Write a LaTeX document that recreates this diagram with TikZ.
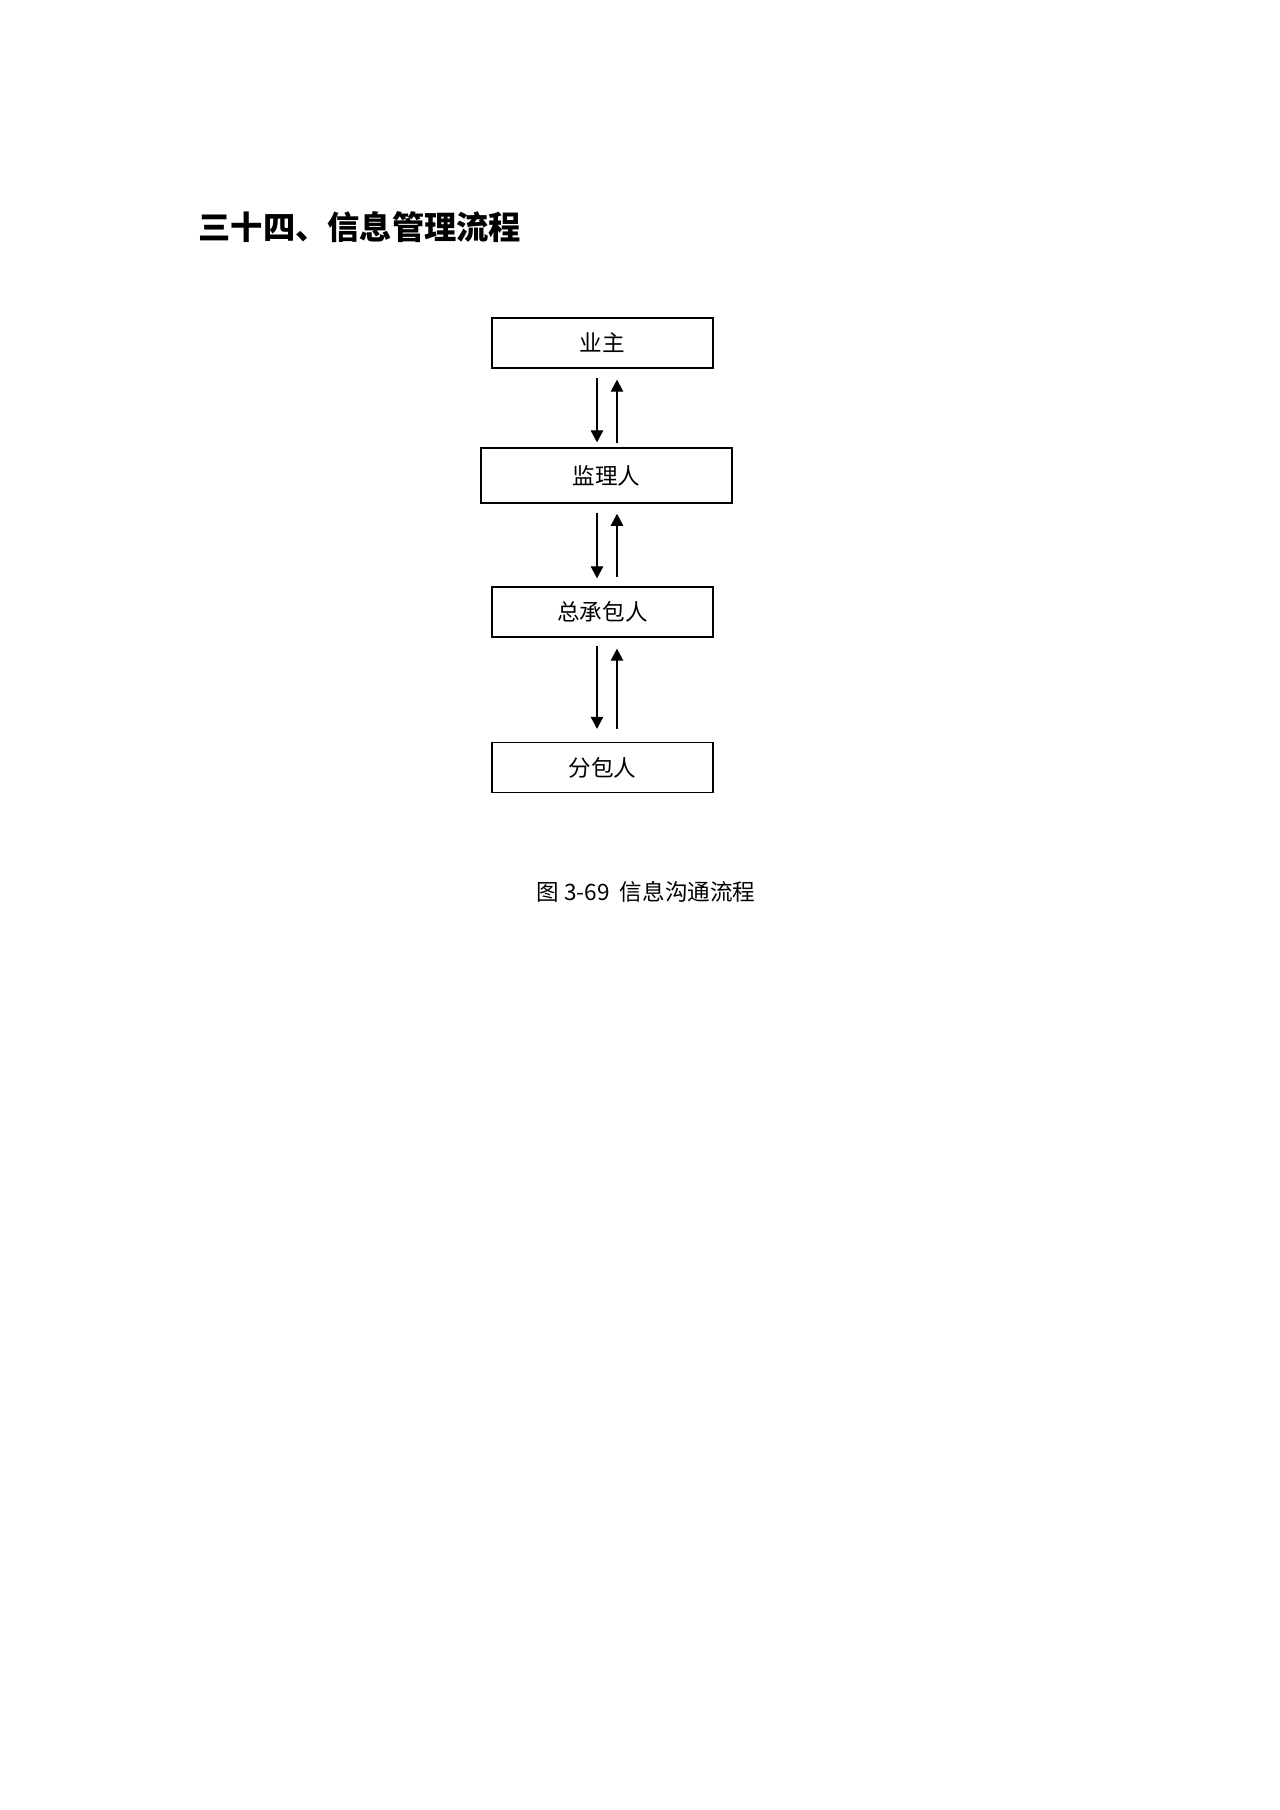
\documentclass[tikz,border=0pt]{standalone}
\usepackage{fontspec}
\setmainfont{Noto Sans CJK SC}
\usetikzlibrary{arrows.meta}

\begin{document}
\begin{tikzpicture}[x=0.46506pt,y=-0.46506pt,>={Triangle[length=5.6pt,width=5.8pt]},
    party/.style={draw,line width=0.6pt,minimum width=102.8pt,minimum height=23.3pt,inner sep=0pt,font=\fontsize{10.5}{12}\selectfont},
    flow/.style={->,line width=0.6pt}]
    \useasboundingbox (0,0) rectangle (1280,1810);
    \node[anchor=west,font=\fontsize{15}{18}\selectfont\bfseries] (title) at (191,227) {三十四、信息管理流程};
    \node[party] (owner) at (602.5,343) {业主};
    \node[party,minimum width=116.7pt,minimum height=25.6pt] (supervisor) at (606.5,475.5) {监理人};
    \node[party] (contractor) at (602.5,612) {总承包人};
    \node[party] (subcontractor) at (602.5,767.5) {分包人};
    \coordinate (dn) at (597,0);
    \coordinate (up) at (617,0);
    \draw[flow,shorten <=4.2pt,shorten >=2.3pt] (owner.south -| dn)--(supervisor.north -| dn);
    \draw[flow,shorten <=1.9pt,shorten >=5.1pt] (supervisor.north -| up)--(owner.south -| up);
    \draw[flow,shorten <=4.2pt,shorten >=3.7pt] (supervisor.south -| dn)--(contractor.north -| dn);
    \draw[flow,shorten <=4.2pt,shorten >=4.7pt] (contractor.north -| up)--(supervisor.south -| up);
    \draw[flow,shorten <=3.7pt,shorten >=6pt] (contractor.south -| dn)--(subcontractor.north -| dn);
    \draw[flow,shorten <=6pt,shorten >=5.1pt] (subcontractor.north -| up)--(contractor.south -| up);
    \node[font=\fontsize{10.5}{12}\selectfont] (caption) at (646,892) {图 3-69~~信息沟通流程};
\end{tikzpicture}
\end{document}
